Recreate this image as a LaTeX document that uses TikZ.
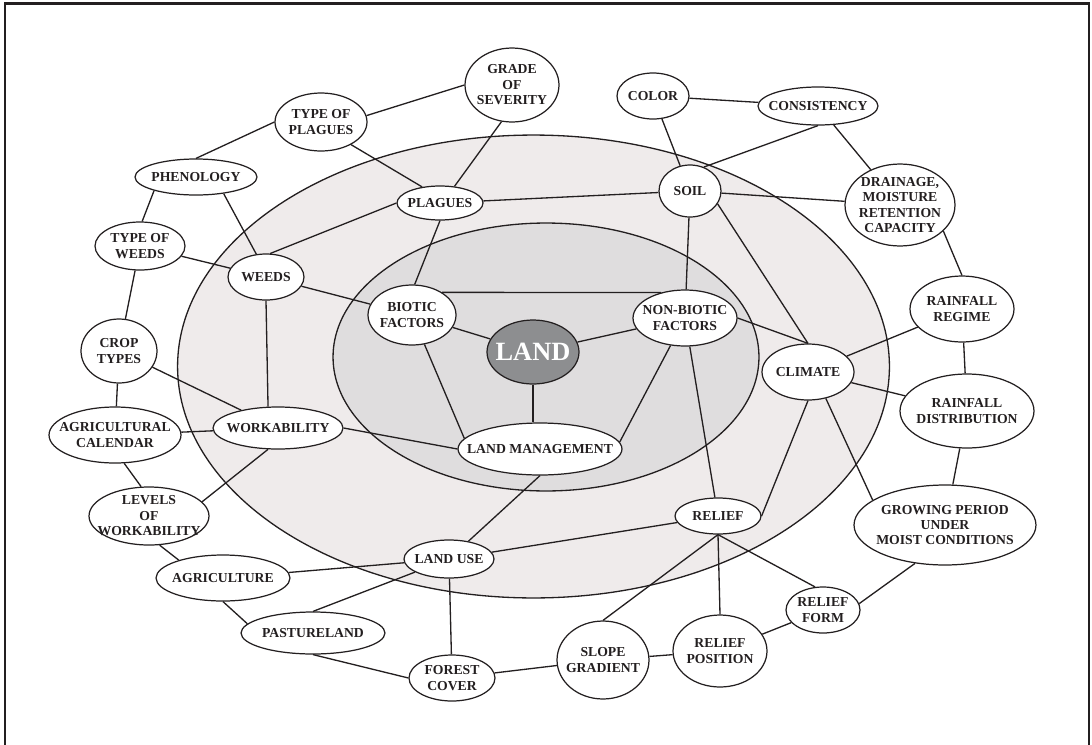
\documentclass[tikz,border=0pt]{standalone}
\usepackage{fontspec}
\setmainfont{Liberation Serif}
\usetikzlibrary{shapes.geometric}

\definecolor{ink}{HTML}{231F20}
\definecolor{ringout}{HTML}{EFEBEB}
\definecolor{ringin}{HTML}{DFDDDE}
\definecolor{landgray}{HTML}{8D8E90}

\tikzset{
  bub/.style={ellipse, draw=ink, fill=white, line width=0.7pt, inner sep=0pt},
  txt/.style={align=center, inner sep=0pt, text=ink,
    font=\fontsize{7.8}{8.8}\selectfont\bfseries},
  link/.style={draw=ink, line width=0.75pt},
}

% an ellipse of fixed size with its words laid on top
% name, centre, width, height, text
\newcommand\bubble[5]{%
  \node[bub, minimum width=#3*0.2mm, minimum height=#4*0.2mm] (#1) at (#2) {};
  \node[txt] (#1-t) at (#1) {#5};}

\begin{document}
\begin{tikzpicture}[x=0.02cm, y=-0.02cm]
    \useasboundingbox (0,0) rectangle (1092,744);

    % frame
    \draw[ink, line width=1.2pt] (5,760) -- (5,3.5) -- (1089,3.5) -- (1089,760);

    % the two rings round the centre
    \draw[ink, fill=ringout, line width=0.75pt] (533.5,366.5) ellipse [x radius=71.2mm, y radius=46.3mm];
    \draw[ink, fill=ringin, line width=0.75pt] (546,357) ellipse [x radius=42.6mm, y radius=26.8mm];

    \node[bub, fill=landgray, minimum width=18.4mm, minimum height=12.8mm] (land) at (533,352) {};
    \node[txt, text=white, font=\fontsize{15}{16}\selectfont\bfseries] (land-t) at (land) {LAND};

    % inner ring
    \bubble{bio}{412,315}{88}{60}{BIOTIC\\FACTORS}
    \bubble{nbio}{685,318}{104}{56}{NON-BIOTIC\\FACTORS}
    \bubble{lman}{540,449}{164}{52}{LAND MANAGEMENT}

    % middle ring
    \bubble{plag}{440,203}{86}{34}{PLAGUES}
    \bubble{weeds}{266,277}{76}{46}{WEEDS}
    \bubble{soil}{690,191}{62}{52}{SOIL}
    \bubble{clim}{808,372}{92}{56}{CLIMATE}
    \bubble{work}{278,428}{130}{42}{WORKABILITY}
    \bubble{luse}{449,559}{90}{38}{LAND USE}
    \bubble{relief}{718,516}{86}{36}{RELIEF}

    % outer ring
    \bubble{sev}{512,85}{94}{74}{GRADE\\OF\\SEVERITY}
    \bubble{tplag}{321,122}{92}{58}{TYPE OF\\PLAGUES}
    \bubble{phen}{196,177}{122}{36}{PHENOLOGY}
    \bubble{tweed}{140,246}{90}{48}{TYPE OF\\WEEDS}
    \bubble{crop}{119,351}{76}{64}{CROP\\TYPES}
    \bubble{cal}{115,435}{132}{56}{AGRICULTURAL\\CALENDAR}
    \bubble{lev}{149,516}{120}{58}{LEVELS\\OF\\WORKABILITY}
    \bubble{agri}{223,578}{134}{46}{AGRICULTURE}
    \bubble{past}{313,633}{144}{42}{PASTURELAND}
    \bubble{forest}{452,678}{86}{46}{FOREST\\COVER}
    \bubble{slope}{603,660}{92}{78}{SLOPE\\GRADIENT}
    \bubble{rpos}{720,651}{94}{72}{RELIEF\\POSITION}
    \bubble{rform}{823,610}{74}{46}{RELIEF\\FORM}
    \bubble{grow}{945,525}{182}{80}{GROWING PERIOD\\UNDER\\MOIST CONDITIONS}
    \bubble{rdist}{967,411}{134}{74}{RAINFALL\\DISTRIBUTION}
    \bubble{rreg}{962,309}{104}{66}{RAINFALL\\REGIME}
    \bubble{drain}{900,205}{110}{82}{DRAINAGE,\\MOISTURE\\RETENTION\\CAPACITY}
    \bubble{cons}{818,106}{120}{38}{CONSISTENCY}
    \bubble{color}{653,96}{72}{46}{COLOR}

    % links round the outside
    \draw[link]
       (tplag.8) edge (sev.west)
       (phen.north) edge (tplag.west)
       (phen.198) edge (tweed.85)
       (tweed) edge (crop)
       (crop) edge (cal)
       (cal.-72) edge (lev.105)
       (lev.-70) edge (agri.158)
       (agri.south) edge (past.172)
       (past.south) edge (forest.west)
       (forest) edge (slope)
       (slope) edge (rpos)
       (rpos) edge (rform)
       (grow.232) edge (rform.10)
       (rdist) edge (grow)
       (rreg) edge (rdist)
       (drain.-31) edge (rreg.north)
       (cons) edge (drain)
       (color) edge (cons);

    % links towards the centre
    \draw[link]
       (sev.254) edge (plag.49)
       (tplag.-37) edge (plag.138)
       (phen.-31) edge (weeds.113)
       (tweed) edge (weeds)
       (plag.west) edge (weeds.80)
       (plag) edge (soil)
       (plag.south) edge (bio.85)
       (weeds) edge (bio)
       (weeds.south) edge (work.115)
       (crop) edge (work)
       (cal) edge (work)
       (lev.15) edge (work.245)
       (work.east) edge (lman.west)
       (lman.south) edge (luse)
       (luse) edge (agri)
       (luse) edge (past.north)
       (luse) edge (forest)
       (luse) edge (relief)
       (relief.south) edge (slope.north)
       (relief.south) edge (rpos.north)
       (relief.south) edge (rform.109)
       (relief) edge (nbio)
       (relief.east) edge (clim.south)
       (clim.-56) edge (grow.161)
       (clim) edge (rdist)
       (clim) edge (rreg)
       (nbio.east) edge (clim.north)
       (soil.-25) edge (clim.north)
       (soil) edge (nbio)
       (soil) edge (color)
       (soil.60) edge (cons.south)
       (soil) edge (drain);

    % centre
    \draw[link]
       (bio.37) edge (nbio.133)
       (bio) edge (land)
       (nbio) edge (land)
       (land) edge (land |- lman.north)
       (bio) edge (lman.172)
       (nbio) edge (lman.5);
\end{tikzpicture}
\end{document}
